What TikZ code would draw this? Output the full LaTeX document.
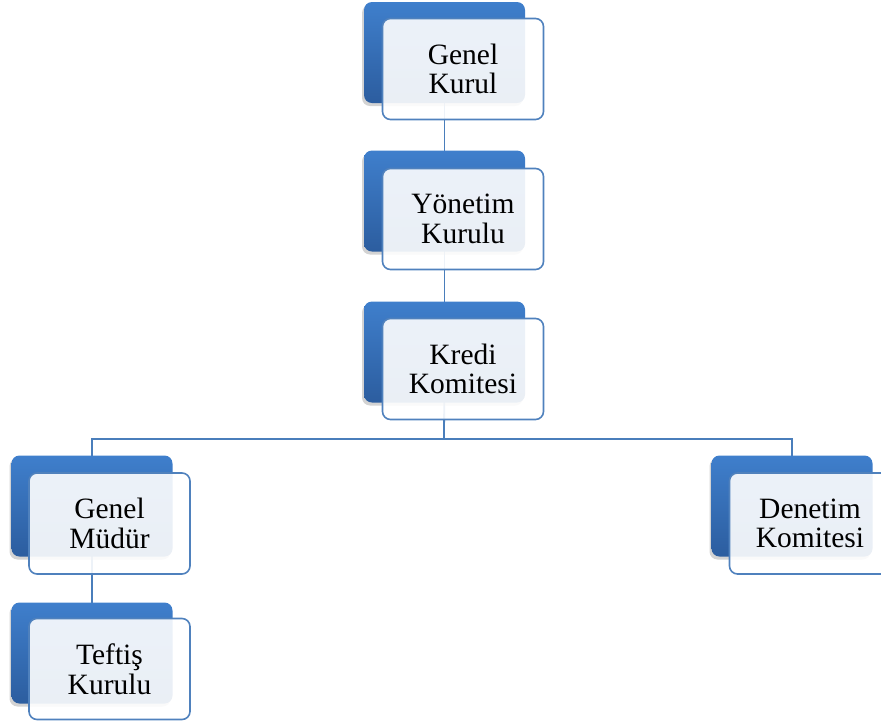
\documentclass[tikz,border=0pt]{standalone}
\usepackage{fontspec}
\setmainfont{Liberation Serif}
\usetikzlibrary{shadows,positioning}
\definecolor{linkblue}{HTML}{4A7EBB}
\definecolor{backtop}{HTML}{3F7FCC}
\definecolor{backbot}{HTML}{2C5D9F}
\definecolor{frontedge}{HTML}{4F81BD}
\pgfdeclarelayer{background}
\pgfsetlayers{background,main}
\tikzset{
  backbox/.style={rectangle, rounded corners=8pt, minimum width=161pt, minimum height=101pt,
    inner sep=0pt, top color=backtop, bottom color=backbot, draw=none,
    drop shadow={shadow xshift=-2pt, shadow yshift=-3pt, opacity=0.35}},
  frontbox/.style={rectangle, rounded corners=8pt, minimum width=161pt, minimum height=101pt,
    inner sep=0pt, fill=white, fill opacity=0.9, text opacity=1, draw=frontedge, line width=1.6pt,
    align=center, font=\fontsize{29.5}{29.5}\selectfont, text=black},
  link/.style={draw=linkblue, line width=1.8pt}
}
\begin{document}
\begin{tikzpicture}[x=1pt,y=-1pt]
\useasboundingbox (0,0) rectangle (881,724);
\clip (0,0) rectangle (881,724);
% Genel Kurul
\node[backbox] (gkb) at (444.5,52.5) {};
\node[frontbox] (gk) at (463,69) {Genel\\Kurul};
% Yonetim Kurulu
\node[backbox] (ykb) at (444.5,201) {};
\node[frontbox] (yk) at (463,219) {Yönetim\\Kurulu};
% Kredi Komitesi
\node[backbox] (kkb) at (444.5,352) {};
\node[frontbox] (kk) at (463,369) {Kredi\\Komitesi};
% Genel Mudur
\node[backbox] (gmb) at (92,506) {};
\node[frontbox] (gm) at (109.5,523.5) {Genel\\Müdür};
% Teftis Kurulu
\node[backbox] (tkb) at (92,653) {};
\node[frontbox] (tk) at (109.5,669) {Teftiş\\Kurulu};
% Denetim Komitesi
\node[backbox] (dkb) at (792,506) {};
\node[frontbox] (dk) at (810,523.5) {Denetim\\Komitesi};
\coordinate (bus) at (444,439);
\begin{pgfonlayer}{background}
\draw[link] (gkb.center) -- (ykb.center);
\draw[link] (ykb.center) -- (kkb.center);
\draw[link] (kkb.center) -- (bus);
\draw[link] (bus) -| (gmb.center);
\draw[link] (bus) -| (dkb.center);
\draw[link] (gmb.center) -- (tkb.center);
\end{pgfonlayer}
\end{tikzpicture}
\end{document}
